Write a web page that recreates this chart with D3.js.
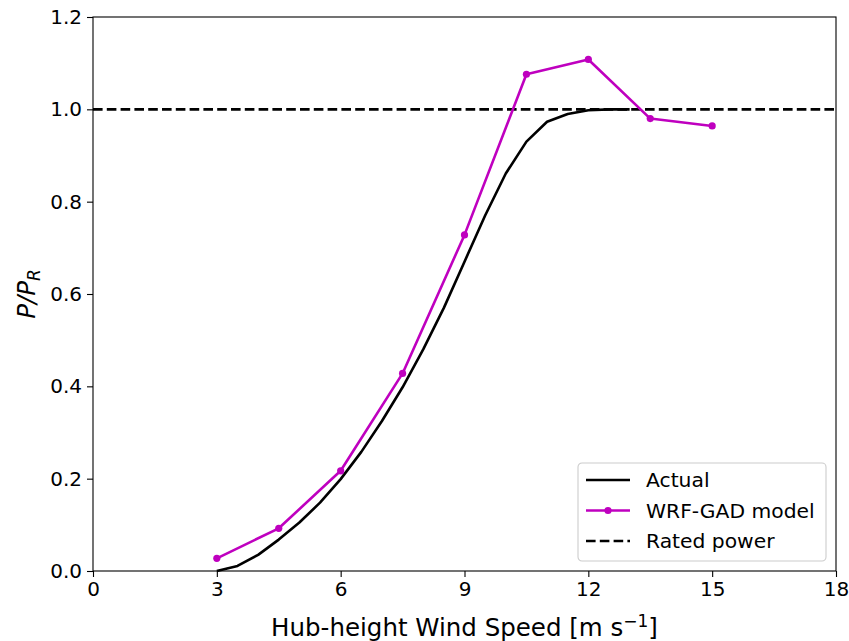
<!DOCTYPE html>
<html>
<head>
  <meta charset="UTF-8">
  <script src="https://d3js.org/d3.v7.min.js"></script>
  <style>
    body { margin: 0; background: white; }
    text { font-family: "DejaVu Sans", sans-serif; }
  </style>
</head>
<body>
  <svg></svg>
<script>
  let width = 849,
    height = 641;

  // power curve of the turbine (manufacturer)
  let actualSpeed = [3, 3.5, 4, 4.5, 5, 5.5, 6, 6.5, 7, 7.5, 8, 8.5, 9, 9.5, 10, 10.5, 11, 11.5, 12, 12.5, 13];
  let actualPower = [0, 0.011, 0.035, 0.068, 0.105, 0.148, 0.199, 0.258, 0.325, 0.398, 0.48, 0.57, 0.67, 0.77, 0.861, 0.93, 0.973, 0.99, 0.998, 1.0, 1.0];

  // WRF-GAD model results
  let modelSpeed = [3, 4.5, 6, 7.5, 9, 10.5, 12, 13.5, 15];
  let modelPower = [0.0275, 0.0925, 0.217, 0.428, 0.728, 1.076, 1.108, 0.98, 0.964];

  let ratedPower = 1.0;

  let xTicks = [0, 3, 6, 9, 12, 15, 18];
  let yTicks = [0, 0.2, 0.4, 0.6, 0.8, 1.0, 1.2];

  let legendLabels = ["Actual", "WRF-GAD model", "Rated power"];

  let margin = { left: 93, right: 13, top: 17, bottom: 70 };

  let svg = d3.select("svg")
    .attr("width", width)
    .attr("height", height);

  let x = d3.scaleLinear()
    .domain([0, 18])
    .range([margin.left, width - margin.right]);

  let y = d3.scaleLinear()
    .domain([0, 1.2])
    .range([height - margin.bottom, margin.top]);

  let line = d3.line()
    .x(d => x(d[0]))
    .y(d => y(d[1]));

  // rated power
  svg.append("line")
    .attr("x1", x(0))
    .attr("x2", x(18))
    .attr("y1", y(ratedPower))
    .attr("y2", y(ratedPower))
    .attr("stroke", "black")
    .attr("stroke-width", 2.6)
    .attr("stroke-dasharray", "9.6,4.2");

  // actual curve
  svg.append("path")
    .datum(d3.zip(actualSpeed, actualPower))
    .attr("d", line)
    .attr("fill", "none")
    .attr("stroke", "black")
    .attr("stroke-width", 2.6)
    .attr("stroke-linejoin", "round");

  // model curve
  let modelData = d3.zip(modelSpeed, modelPower);
  svg.append("path")
    .datum(modelData)
    .attr("d", line)
    .attr("fill", "none")
    .attr("stroke", "#bf00bf")
    .attr("stroke-width", 2.6)
    .attr("stroke-linejoin", "round");

  svg.append("g")
    .selectAll("circle")
    .data(modelData)
    .enter()
    .append("circle")
    .attr("cx", d => x(d[0]))
    .attr("cy", d => y(d[1]))
    .attr("r", 3.6)
    .attr("fill", "#bf00bf");

  // axes
  let xAxis = svg.append("g")
    .attr("transform", "translate(0," + y(0) + ")")
    .call(d3.axisBottom(x).tickValues(xTicks).tickSize(6).tickPadding(5).tickFormat(d3.format("d")));

  let yAxis = svg.append("g")
    .attr("transform", "translate(" + x(0) + ",0)")
    .call(d3.axisLeft(y).tickValues(yTicks).tickSize(6).tickPadding(5).tickFormat(d3.format(".1f")));

  [xAxis, yAxis].forEach(a => {
    a.select(".domain").remove();
    a.selectAll("line").attr("stroke", "black").attr("stroke-width", 1.1);
    a.selectAll("text")
      .attr("font-size", 20)
      .attr("fill", "black")
      .style("font-family", "DejaVu Sans");
  });

  // frame
  svg.append("rect")
    .attr("x", x(0))
    .attr("y", y(1.2))
    .attr("width", x(18) - x(0))
    .attr("height", y(0) - y(1.2))
    .attr("fill", "none")
    .attr("stroke", "black")
    .attr("stroke-width", 1.1);

  // axis labels
  let xl = svg.append("text")
    .attr("x", (x(0) + x(18)) / 2)
    .attr("y", 636)
    .attr("text-anchor", "middle")
    .attr("font-size", 24.5);
  xl.append("tspan").text("Hub-height Wind Speed [m s");
  xl.append("tspan").attr("dy", -9).attr("font-size", 17).text("\u22121");
  xl.append("tspan").attr("dy", 9).text("]");

  let yl = svg.append("text")
    .attr("transform", "translate(35," + ((y(0) + y(1.2)) / 2) + ") rotate(-90)")
    .attr("text-anchor", "middle")
    .attr("font-size", 24.5)
    .attr("font-style", "italic");
  yl.append("tspan").text("P/P");
  yl.append("tspan").attr("dy", 5).attr("font-size", 17).text("R");

  // legend
  let lg = svg.append("g").attr("transform", "translate(578,463)");
  lg.append("rect")
    .attr("width", 248)
    .attr("height", 98)
    .attr("rx", 4)
    .attr("fill", "white")
    .attr("fill-opacity", 0.8)
    .attr("stroke", "#cccccc")
    .attr("stroke-width", 1.1);

  legendLabels.forEach((lab, i) => {
    let ly = 17 + i * 30.5;
    let ln = lg.append("line")
      .attr("x1", 8)
      .attr("x2", 52)
      .attr("y1", ly)
      .attr("y2", ly)
      .attr("stroke", i == 1 ? "#bf00bf" : "black")
      .attr("stroke-width", 2.6);
    if (i == 2) ln.attr("stroke-dasharray", "9.6,4.2");
    if (i == 1) {
      lg.append("circle").attr("cx", 30).attr("cy", ly).attr("r", 3.6).attr("fill", "#bf00bf");
    }
    lg.append("text")
      .attr("x", 68)
      .attr("y", ly + 7)
      .attr("font-size", 20.3)
      .text(lab);
  });
</script>
</body>
</html>
